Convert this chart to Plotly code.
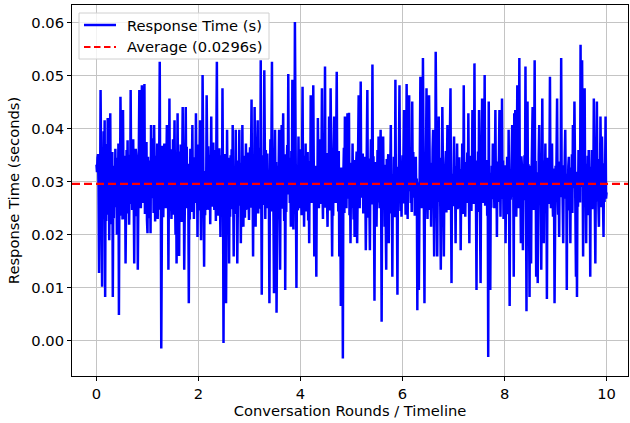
import numpy as np
import plotly.graph_objects as go

# Response time per step of the conversation timeline (0.00 .. 10.00, step 0.01),
# values read /, ten per row.
response_times = [
    0.0332, 0.0318, 0.0345, 0.0352, 0.0290, 0.0128, 0.0301, 0.0255, 0.0473, 0.0268,
    0.0336, 0.0102, 0.0312, 0.0241, 0.0395, 0.0262, 0.0416, 0.0083, 0.0347, 0.0226,
    0.0371, 0.0238, 0.0420, 0.0274, 0.0352, 0.0190, 0.0318, 0.0429, 0.0247, 0.0335,
    0.0220, 0.0356, 0.0083, 0.0298, 0.0231, 0.0330, 0.0252, 0.0362, 0.0279, 0.0345,
    0.0200, 0.0341, 0.0263, 0.0372, 0.0049, 0.0308, 0.0236, 0.0460, 0.0327, 0.0250,
    0.0365, 0.0229, 0.0435, 0.0281, 0.0349, 0.0230, 0.0337, 0.0146, 0.0296, 0.0360,
    0.0264, 0.0378, 0.0240, 0.0351, 0.0219, 0.0310, 0.0258, 0.0473, 0.0302, 0.0366,
    0.0247, 0.0329, 0.0380, 0.0273, 0.0146, 0.0318, 0.0235, 0.0362, 0.0350, 0.0257,
    0.0339, 0.0134, 0.0306, 0.0244, 0.0473, 0.0287, 0.0364, 0.0250, 0.0321, 0.0482,
    0.0295, 0.0358, 0.0260, 0.0343, 0.0484, 0.0239, 0.0326, 0.0280, 0.0375, 0.0228,
    0.0203, 0.0347, 0.0262, 0.0340, 0.0231, 0.0316, 0.0203, 0.0407, 0.0269, 0.0355,
    0.0270, 0.0382, 0.0241, 0.0407, 0.0288, 0.0225, 0.0349, 0.0310, 0.0256, 0.0372,
    0.0230, 0.0331, 0.0278, 0.0359, 0.0526, 0.0247, 0.0313, -0.0014, 0.0284, 0.0368,
    0.0300, 0.0233, 0.0344, 0.0372, 0.0261, 0.0338, 0.0250, 0.0319, 0.0407, 0.0272,
    0.0353, 0.0134, 0.0302, 0.0457, 0.0245, 0.0361, 0.0283, 0.0230, 0.0340, 0.0266,
    0.0380, 0.0238, 0.0325, 0.0416, 0.0271, 0.0200, 0.0348, 0.0146, 0.0309, 0.0429,
    0.0254, 0.0357, 0.0160, 0.0322, 0.0236, 0.0370, 0.0330, 0.0224, 0.0293, 0.0441,
    0.0267, 0.0350, 0.0134, 0.0315, 0.0259, 0.0441, 0.0283, 0.0366, 0.0250, 0.0334,
    0.0276, 0.0071, 0.0311, 0.0229, 0.0362, 0.0330, 0.0243, 0.0299, 0.0407, 0.0268,
    0.0346, 0.0230, 0.0337, 0.0260, 0.0305, 0.0429, 0.0282, 0.0354, 0.0196, 0.0321,
    0.0370, 0.0246, 0.0328, 0.0416, 0.0277, 0.0190, 0.0342, 0.0264, 0.0501, 0.0290,
    0.0358, 0.0140, 0.0309, 0.0237, 0.0320, 0.0270, 0.0463, 0.0301, 0.0247, 0.0367,
    0.0285, 0.0330, 0.0351, 0.0220, 0.0314, 0.0423, 0.0253, 0.0339, 0.0260, 0.0374,
    0.0296, 0.0247, 0.0331, 0.0360, 0.0226, 0.0317, 0.0526, 0.0273, 0.0344, 0.0236,
    0.0250, 0.0363, 0.0289, 0.0196, 0.0327, 0.0350, 0.0258, 0.0476, 0.0304, -0.0004,
    0.0281, 0.0352, 0.0300, 0.0242, 0.0071, 0.0319, 0.0398, 0.0266, 0.0250, 0.0345,
    0.0146, 0.0308, 0.0234, 0.0350, 0.0279, 0.0361, 0.0248, 0.0407, 0.0293, 0.0159,
    0.0312, 0.0330, 0.0239, 0.0398, 0.0271, 0.0325, 0.0146, 0.0297, 0.0340, 0.0255,
    0.0398, 0.0267, 0.0336, 0.0184, 0.0311, 0.0246, 0.0407, 0.0287, 0.0215, 0.0349,
    0.0330, 0.0232, 0.0303, 0.0372, 0.0261, 0.0342, 0.0247, 0.0355, 0.0278, 0.0228,
    0.0320, 0.0365, 0.0251, 0.0333, 0.0455, 0.0274, 0.0310, 0.0159, 0.0346, 0.0259,
    0.0441, 0.0292, 0.0215, 0.0338, 0.0265, 0.0357, 0.0416, 0.0240, 0.0326, 0.0280,
    0.0364, 0.0249, 0.0529, 0.0286, 0.0087, 0.0314, 0.0256, 0.0350, 0.0277, 0.0510,
    0.0299, 0.0230, 0.0360, 0.0268, 0.0330, 0.0353, 0.0250, 0.0321, 0.0262, 0.0071,
    0.0304, 0.0380, 0.0244, 0.0328, 0.0526, 0.0270, 0.0347, 0.0235, 0.0090, 0.0318,
    0.0398, 0.0266, 0.0337, 0.0053, 0.0292, 0.0330, 0.0238, 0.0305, 0.0398, 0.0257,
    0.0134, 0.0324, 0.0274, 0.0407, 0.0249, 0.0339, 0.0429, 0.0283, 0.0226, 0.0352,
    0.0096, 0.0316, 0.0243, 0.0330, 0.0369, 0.0276, 0.0503, 0.0298, 0.0345, 0.0260,
    0.0332, 0.0215, 0.0358, 0.0281, 0.0492, 0.0306, 0.0210, 0.0341, 0.0269, 0.0601,
    0.0289, 0.0351, 0.0100, 0.0323, 0.0300, 0.0246, 0.0385, 0.0272, 0.0336, 0.0250,
    0.0361, 0.0284, 0.0237, 0.0343, 0.0479, 0.0265, 0.0319, 0.0215, 0.0349, 0.0278,
    0.0372, 0.0244, 0.0331, 0.0270, 0.0356, 0.0227, 0.0312, 0.0184, 0.0339, 0.0261,
    0.0463, 0.0296, 0.0260, 0.0348, 0.0275, 0.0482, 0.0302, 0.0159, 0.0287, 0.0330,
    0.0242, 0.0121, 0.0318, 0.0263, 0.0420, 0.0291, 0.0250, 0.0344, 0.0273, 0.0380,
    0.0258, 0.0333, 0.0476, 0.0285, 0.0230, 0.0357, 0.0268, 0.0315, 0.0517, 0.0251,
    0.0290, 0.0354, 0.0264, 0.0215, 0.0338, 0.0277, 0.0423, 0.0246, 0.0320, 0.0476,
    0.0282, 0.0349, 0.0159, 0.0311, 0.0236, 0.0362, 0.0423, 0.0270, 0.0331, 0.0260,
    0.0346, 0.0507, 0.0279, 0.0325, 0.0244, 0.0358, 0.0159, 0.0306, 0.0267, 0.0066,
    0.0327, 0.0300, 0.0255, -0.0033, 0.0313, 0.0364, 0.0241, 0.0423, 0.0289, 0.0340,
    0.0250, 0.0322, 0.0429, 0.0268, 0.0345, 0.0430, 0.0237, 0.0309, 0.0184, 0.0336,
    0.0276, 0.0251, 0.0372, 0.0288, 0.0229, 0.0341, 0.0196, 0.0317, 0.0263, 0.0330,
    0.0357, 0.0184, 0.0304, 0.0272, 0.0463, 0.0293, 0.0250, 0.0339, 0.0489, 0.0281,
    0.0318, 0.0270, 0.0353, 0.0240, 0.0326, 0.0347, 0.0258, 0.0301, 0.0171, 0.0335,
    0.0264, 0.0473, 0.0286, 0.0232, 0.0344, 0.0275, 0.0171, 0.0312, 0.0380, 0.0257,
    0.0329, 0.0521, 0.0283, 0.0348, 0.0245, 0.0076, 0.0307, 0.0269, 0.0337, 0.0215,
    0.0297, 0.0360, 0.0261, 0.0385, 0.0290, 0.0250, 0.0324, 0.0398, 0.0277, 0.0036,
    0.0305, 0.0248, 0.0385, 0.0279, 0.0332, 0.0215, 0.0316, 0.0262, 0.0134, 0.0343,
    0.0271, 0.0330, 0.0352, 0.0184, 0.0308, 0.0240, 0.0339, 0.0407, 0.0266, 0.0314,
    0.0121, 0.0298, 0.0254, 0.0347, 0.0285, 0.0233, 0.0492, 0.0276, 0.0328, 0.0249,
    0.0087, 0.0321, 0.0268, 0.0355, 0.0482, 0.0292, 0.0245, 0.0336, 0.0234, 0.0318,
    0.0350, 0.0259, 0.0311, 0.0435, 0.0274, 0.0343, 0.0238, 0.0270, 0.0484, 0.0301,
    0.0230, 0.0338, 0.0282, 0.0463, 0.0309, 0.0347, 0.0260, 0.0322, 0.0243, 0.0451,
    0.0294, 0.0356, 0.0270, 0.0328, 0.0236, 0.0315, 0.0347, 0.0267, 0.0306, 0.0058,
    0.0299, 0.0261, 0.0096, 0.0334, 0.0279, 0.0498, 0.0288, 0.0250, 0.0352, 0.0273,
    0.0533, 0.0291, 0.0327, 0.0071, 0.0310, 0.0256, 0.0342, 0.0476, 0.0283, 0.0230,
    0.0349, 0.0266, 0.0463, 0.0302, 0.0247, 0.0336, 0.0215, 0.0320, 0.0271, 0.0361,
    0.0398, 0.0284, 0.0159, 0.0313, 0.0259, 0.0545, 0.0295, 0.0338, 0.0159, 0.0307,
    0.0262, 0.0423, 0.0286, 0.0345, 0.0253, 0.0134, 0.0318, 0.0272, 0.0441, 0.0296,
    0.0335, 0.0159, 0.0309, 0.0263, 0.0330, 0.0358, 0.0242, 0.0321, 0.0407, 0.0278,
    0.0340, 0.0247, 0.0326, 0.0289, 0.0476, 0.0268, 0.0109, 0.0315, 0.0300, 0.0254,
    0.0343, 0.0385, 0.0265, 0.0312, 0.0184, 0.0329, 0.0276, 0.0372, 0.0248, 0.0317,
    0.0250, 0.0346, 0.0284, 0.0324, 0.0171, 0.0303, 0.0257, 0.0372, 0.0291, 0.0239,
    0.0482, 0.0287, 0.0337, 0.0234, 0.0318, 0.0266, 0.0330, 0.0355, 0.0260, 0.0429,
    0.0293, 0.0184, 0.0327, 0.0270, 0.0349, 0.0245, 0.0311, 0.0435, 0.0279, 0.0338,
    0.0258, 0.0523, 0.0301, 0.0340, 0.0264, 0.0096, 0.0322, 0.0275, 0.0357, 0.0243,
    0.0435, 0.0280, 0.0319, 0.0109, 0.0306, 0.0346, 0.0457, 0.0273, 0.0260, 0.0332,
    0.0290, 0.0501, 0.0255, 0.0328, 0.0270, 0.0341, 0.0236, 0.0305, -0.0030, 0.0451,
    0.0274, 0.0317, 0.0096, 0.0296, 0.0251, 0.0330, 0.0267, 0.0372, 0.0289, 0.0344,
    0.0250, 0.0313, 0.0435, 0.0281, 0.0338, 0.0196, 0.0322, 0.0262, 0.0300, 0.0351,
    0.0435, 0.0277, 0.0234, 0.0335, 0.0268, 0.0457, 0.0298, 0.0340, 0.0230, 0.0312,
    0.0263, 0.0331, 0.0184, 0.0307, 0.0252, 0.0347, 0.0285, 0.0239, 0.0398, 0.0294,
    0.0066, 0.0324, 0.0266, 0.0300, 0.0349, 0.0407, 0.0272, 0.0315, 0.0121, 0.0429,
    0.0283, 0.0435, 0.0301, 0.0234, 0.0336, 0.0482, 0.0290, 0.0250, 0.0327, 0.0533,
    0.0270, 0.0315, 0.0184, 0.0348, 0.0330, 0.0259, 0.0171, 0.0309, 0.0265, 0.0350,
    0.0286, 0.0517, 0.0296, 0.0056, 0.0322, 0.0451, 0.0261, 0.0333, 0.0244, 0.0083,
    0.0330, 0.0271, 0.0146, 0.0314, 0.0355, 0.0441, 0.0279, 0.0247, 0.0326, 0.0529,
    0.0284, 0.0339, 0.0121, 0.0318, 0.0269, 0.0109, 0.0306, 0.0351, 0.0407, 0.0256,
    0.0323, 0.0277, 0.0134, 0.0310, 0.0457, 0.0287, 0.0340, 0.0184, 0.0319, 0.0264,
    0.0372, 0.0249, 0.0328, 0.0079, 0.0303, 0.0345, 0.0300, 0.0258, 0.0334, 0.0498,
    0.0292, 0.0250, 0.0336, 0.0372, 0.0274, 0.0234, 0.0325, 0.0279, 0.0071, 0.0311,
    0.0330, 0.0262, 0.0345, 0.0457, 0.0283, 0.0238, 0.0317, 0.0196, 0.0338, 0.0271,
    0.0307, 0.0533, 0.0286, 0.0331, 0.0255, 0.0184, 0.0320, 0.0268, 0.0347, 0.0398,
    0.0281, 0.0315, 0.0096, 0.0301, 0.0258, 0.0329, 0.0347, 0.0246, 0.0313, 0.0184,
    0.0327, 0.0266, 0.0352, 0.0241, 0.0407, 0.0288, 0.0323, 0.0451, 0.0264, 0.0308,
    0.0121, 0.0296, 0.0083, 0.0319, 0.0253, 0.0360, 0.0277, 0.0330, 0.0261, 0.0558,
    0.0290, 0.0341, 0.0529, 0.0272, 0.0159, 0.0316, 0.0257, 0.0476, 0.0285, 0.0334,
    0.0184, 0.0320, 0.0264, 0.0349, 0.0237, 0.0360, 0.0289, 0.0311, 0.0121, 0.0328,
    0.0270, 0.0360, 0.0248, 0.0322, 0.0280, 0.0457, 0.0296, 0.0337, 0.0146, 0.0309,
    0.0263, 0.0451, 0.0287, 0.0330, 0.0255, 0.0215, 0.0343, 0.0276, 0.0423, 0.0301,
    0.0252, 0.0385, 0.0274, 0.0318, 0.0196, 0.0335, 0.0262, 0.0300, 0.0423, 0.0268,
    0.0280,
]

# Regular timeline of conversation rounds from 0 to 10
rounds = np.linspace(0, 10, len(response_times))

AVERAGE = 0.0296
SERIES_NAME = "Response Time (s)"
AVERAGE_NAME = f"Average ({AVERAGE}s)"
x_ticks = [0, 2, 4, 6, 8, 10]
y_ticks = [0.00, 0.01, 0.02, 0.03, 0.04, 0.05, 0.06]
y_tick_labels = ["0.00", "0.01", "0.02", "0.03", "0.04", "0.05", "0.06"]

FONT = "DejaVu Sans"
FS = 14.7
W, H = 630, 423
ML, MR, MT, MB = 72, 2, 5, 47
PW, PH = W - ML - MR, H - MT - MB


def px(xp):  # pixel x -> paper x
    return (xp - ML) / PW


def py(yp):  # pixel y -> paper y
    return (H - MB - yp) / PH


RED_DASH = "8px,4px"

fig = go.Figure()
fig.add_trace(go.Scatter(
    x=rounds, y=response_times, mode="lines",
    line=dict(color="#0000ff", width=2.5),
    name=SERIES_NAME, showlegend=False,
))
fig.add_hline(y=AVERAGE, line=dict(color="#ff0000", width=2.2, dash=RED_DASH), layer="above")

# legend box (drawn as shapes + text to match the reference layout)
fig.add_shape(type="rect", xref="paper", yref="paper",
              x0=px(79), x1=px(269), y0=py(59), y1=py(13),
              fillcolor="rgba(255,255,255,0.8)", line=dict(color="#d0d0d0", width=1),
              layer="above")
fig.add_shape(type="line", xref="paper", yref="paper",
              x0=px(84), x1=px(116), y0=py(25), y1=py(25),
              line=dict(color="#0000ff", width=2.5), layer="above")
fig.add_shape(type="line", xref="paper", yref="paper",
              x0=px(84), x1=px(116), y0=py(47), y1=py(47),
              line=dict(color="#ff0000", width=2, dash="6.5px,3.5px"), layer="above")
for label, yy in [(SERIES_NAME, 25), (AVERAGE_NAME, 47)]:
    fig.add_annotation(text=label, xref="paper", yref="paper", x=px(126), y=py(yy),
                       xanchor="left", yanchor="middle", showarrow=False,
                       font=dict(family=FONT, size=FS, color="black"), borderpad=0)

axis_common = dict(
    showline=True, linecolor="black", linewidth=1, mirror=True,
    ticks="outside", ticklen=4, tickcolor="black", tickwidth=1,
    showgrid=True, gridcolor="#c4c4c4", gridwidth=1,
    zeroline=False, automargin=False,
    tickfont=dict(family=FONT, size=FS, color="black"),
)

fig.update_layout(
    width=W, height=H,
    margin=dict(l=ML, r=MR, t=MT, b=MB, autoexpand=False),
    paper_bgcolor="white", plot_bgcolor="white",
    font=dict(family=FONT, size=FS, color="black"),
    showlegend=False,
    xaxis=dict(
        **axis_common,
        range=[-0.48, 10.42],
        tickmode="array", tickvals=x_ticks, ticktext=[str(t) for t in x_ticks],
        title=dict(text="Conversation Rounds / Timeline", font=dict(family=FONT, size=FS), standoff=4),
    ),
    yaxis=dict(
        **axis_common,
        range=[-0.0066, 0.0633],
        tickmode="array", tickvals=y_ticks, ticktext=y_tick_labels,
        title=dict(text="Response Time (seconds)", font=dict(family=FONT, size=FS), standoff=8),
    ),
)

fig.write_html("out.html", config={"displayModeBar": False},
               post_script="document.body.style.margin='0px';")
